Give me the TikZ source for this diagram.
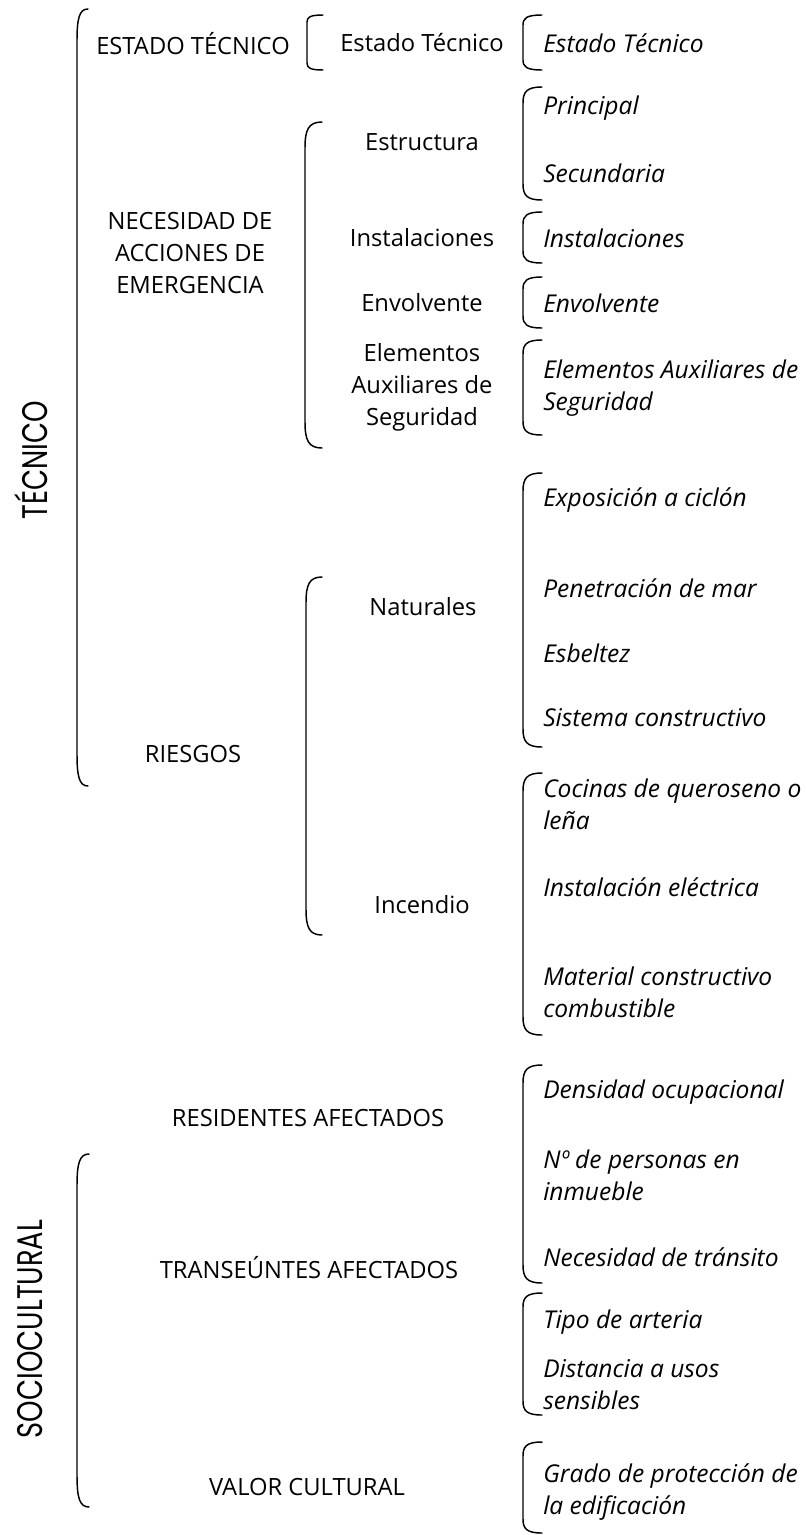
\documentclass[tikz,border=0pt]{standalone}
\usepackage{fontspec}
\setmainfont{Open Sans}
\newfontfamily\vfont{Poppins}
\newcommand\mybrak[5]{\draw[brk] ({#1+#2},#3) .. controls ({#1+0.2*#2},#3) and (#1,{#3+0.3*#5}) .. (#1,{#3+#5}) -- (#1,{#4-#5}) .. controls (#1,{#4-0.3*#5}) and ({#1+0.2*#2},#4) .. ({#1+#2},#4);}
\begin{document}
\begin{tikzpicture}[x=0.75pt,y=-0.75pt,
  lbl/.style={font=\fontsize{17.8}{24}\selectfont, inner sep=0pt, align=center},
  itl/.style={font=\fontsize{18.4}{24}\selectfont\itshape, inner sep=0pt, anchor=west, align=left},
  vlbl/.style={font=\vfont\fontsize{20.5}{22}\selectfont, inner sep=0pt, rotate=90},
  brk/.style={line width=1.1pt, line cap=round}]
\useasboundingbox (0,0) rectangle (806,1535);

% vertical labels
\node[vlbl] (tec) at (31,460) {\scalebox{1}[1.3]{TÉCNICO}};
\node[vlbl] (soc) at (30,1329) {\scalebox{1}[1.3]{SOCIOCULTURAL}};

% level 1 brackets
\mybrak{77}{11}{9}{786}{32}
\mybrak{77}{12}{1154}{1507}{32}

% level 1 labels
\node[lbl] (l1a) at (193,44) {ESTADO TÉCNICO};
\node[lbl] (l1b) at (190,253) {NECESIDAD DE\\ACCIONES DE\\EMERGENCIA};
\node[lbl] (l1c) at (193,754) {RIESGOS};
\node[lbl] (l1d) at (308,1118) {RESIDENTES AFECTADOS};
\node[lbl] (l1e) at (309,1268) {TRANSEÚNTES AFECTADOS};
\node[lbl] (l1f) at (307,1487) {VALOR CULTURAL};

% level 2 brackets
\mybrak{307}{16}{15}{70}{7}
\mybrak{305}{17}{122}{448}{26}
\mybrak{306}{16}{577}{935}{26}

% level 2 labels
\node[lbl] (l2a) at (422,43) {Estado Técnico};
\node[lbl] (l2b) at (422,142) {Estructura};
\node[lbl] (l2c) at (422,238) {Instalaciones};
\node[lbl] (l2d) at (422,303) {Envolvente};
\node[lbl] (l2e) at (422,387) {Elementos\\Auxiliares de\\Seguridad};
\node[lbl] (l2f) at (423,607) {Naturales};
\node[lbl] (l2g) at (422,905) {Incendio};

% level 3 brackets
\mybrak{523}{19}{15}{70}{10}
\mybrak{523}{19}{87}{200}{16}
\mybrak{523}{19}{212}{263}{12}
\mybrak{523}{19}{277}{328}{12}
\mybrak{523}{19}{340}{435}{14}
\mybrak{523}{19}{473}{747}{18}
\mybrak{523}{19}{773}{1035}{18}
\mybrak{523}{19}{1065}{1283}{18}
\mybrak{523}{19}{1293}{1415}{14}
\mybrak{523}{19}{1442}{1533}{14}

% level 3 labels
\node[itl] (t1) at (543,43) {Estado Técnico};
\node[itl] (t2) at (543,108) {Principal};
\node[itl] (t3) at (543,173) {Secundaria};
\node[itl] (t4) at (543,238) {Instalaciones};
\node[itl] (t5) at (543,303) {Envolvente};
\node[itl] (t6) at (543,388) {Elementos Auxiliares de\\Seguridad};
\node[itl] (t7) at (543,500) {Exposición a ciclón};
\node[itl] (t8) at (543,588) {Penetración de mar};
\node[itl] (t9) at (543,653) {Esbeltez};
\node[itl] (t10) at (543,718) {Sistema constructivo};
\node[itl] (t11) at (543,804) {Cocinas de queroseno o\\leña};
\node[itl] (t12) at (543,887) {Instalación eléctrica};
\node[itl] (t13) at (543,992) {Material constructivo\\combustible};
\node[itl] (t14) at (543,1092) {Densidad ocupacional};
\node[itl] (t15) at (543,1175) {Nº de personas en\\inmueble};
\node[itl] (t16) at (543,1257) {Necesidad de tránsito};
\node[itl] (t17) at (543,1322) {Tipo de arteria};
\node[itl] (t18) at (543,1385) {Distancia a usos\\sensibles};
\node[itl] (t19) at (543,1492) {Grado de protección de\\la edificación};
\end{tikzpicture}
\end{document}
